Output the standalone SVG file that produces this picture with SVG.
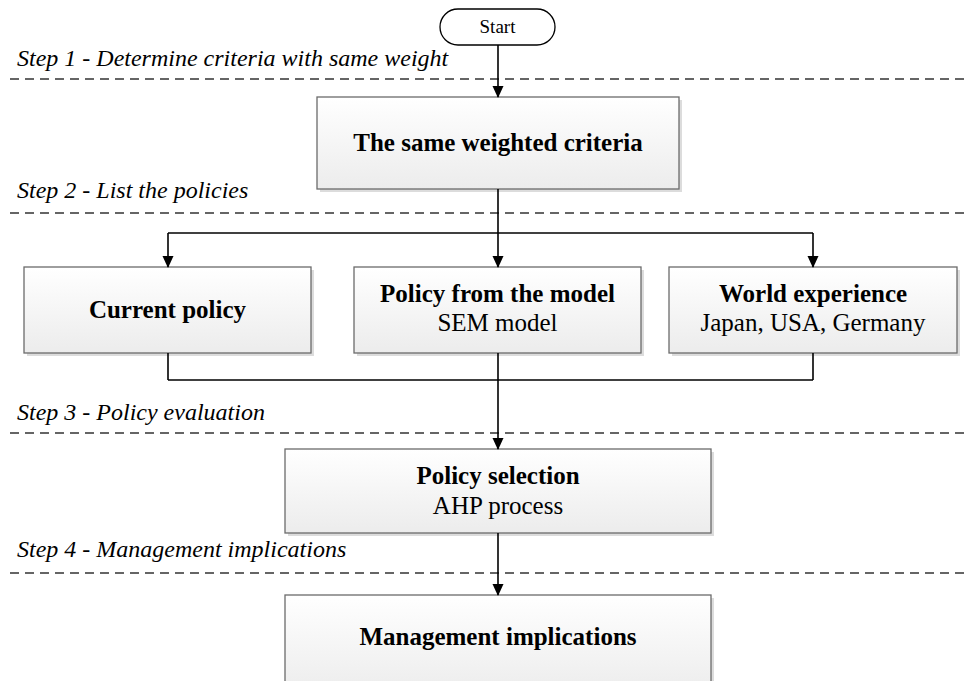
<svg xmlns="http://www.w3.org/2000/svg" width="967" height="681" viewBox="0 0 967 681">
<defs>
<linearGradient id="g" x1="0" y1="0" x2="0" y2="1">
<stop offset="0" stop-color="#ffffff"/>
<stop offset="1" stop-color="#ececec"/>
</linearGradient>
<marker id="ah" markerWidth="12" markerHeight="12" refX="11" refY="5.5" orient="auto" markerUnits="userSpaceOnUse">
<path d="M0,0 L12,5.5 L0,11 Z" fill="#000"/>
</marker>
<style>
.box{fill:url(#g);stroke:#6b6b6b;stroke-width:1.3}
.sh{fill:#dcdcdc}
.b{font-family:"Liberation Serif","Times New Roman",serif;font-weight:bold;font-size:25px;text-anchor:middle;fill:#000}
.r{font-family:"Liberation Serif","Times New Roman",serif;font-size:25px;text-anchor:middle;fill:#000}
.step{font-family:"Liberation Serif","Times New Roman",serif;font-style:italic;font-size:24px;fill:#000}
.dash{stroke:#333;stroke-width:1.3;stroke-dasharray:9 6;fill:none}
.c{stroke:#000;stroke-width:1.6;fill:none}
.ca{stroke:#000;stroke-width:1.6;fill:none;marker-end:url(#ah)}
</style>
</defs>
<rect width="967" height="681" fill="#fff"/>
<g id="steps">
<text class="step" x="17" y="66">Step 1 - Determine criteria with same weight</text>
<line class="dash" x1="10" y1="79" x2="967" y2="79"/>
<text class="step" x="17" y="198">Step 2 - List the policies</text>
<line class="dash" x1="10" y1="213" x2="967" y2="213"/>
<text class="step" x="17" y="420">Step 3 - Policy evaluation</text>
<line class="dash" x1="10" y1="433" x2="967" y2="433"/>
<text class="step" x="17" y="557">Step 4 - Management implications</text>
<line class="dash" x1="10" y1="573" x2="967" y2="573"/>
</g>
<g id="start">
<rect x="440" y="9" width="115" height="36" rx="18" fill="#fff" stroke="#000" stroke-width="1.3"/>
<text x="497.5" y="33" font-family="Liberation Serif, Times New Roman, serif" font-size="19" text-anchor="middle">Start</text>
</g>
<g id="criteria">
<rect class="sh" x="320" y="100" width="362" height="92"/>
<rect class="box" x="317" y="97" width="362" height="92"/>
<text class="b" x="498" y="151">The same weighted criteria</text>
</g>
<g id="current">
<rect class="sh" x="27" y="270" width="287" height="86"/>
<rect class="box" x="24" y="267" width="287" height="86"/>
<text class="b" x="167.5" y="318">Current policy</text>
</g>
<g id="model">
<rect class="sh" x="357" y="270" width="287" height="86"/>
<rect class="box" x="354" y="267" width="287" height="86"/>
<text class="b" x="497.5" y="302">Policy from the model</text>
<text class="r" x="497.5" y="331">SEM model</text>
</g>
<g id="world">
<rect class="sh" x="672" y="270" width="288" height="86"/>
<rect class="box" x="669" y="267" width="288" height="86"/>
<text class="b" x="813" y="302">World experience</text>
<text class="r" x="813" y="331">Japan, USA, Germany</text>
</g>
<g id="selection">
<rect class="sh" x="288" y="452" width="426" height="84"/>
<rect class="box" x="285" y="449" width="426" height="84"/>
<text class="b" x="498" y="484">Policy selection</text>
<text class="r" x="498" y="514">AHP process</text>
</g>
<g id="management">
<rect class="sh" x="288" y="598" width="426" height="100"/>
<rect class="box" x="285" y="595" width="426" height="100"/>
<text class="b" x="498" y="645">Management implications</text>
</g>
<g id="connectors">
<line class="ca" x1="498" y1="45" x2="498" y2="97"/>
<line class="c" x1="498" y1="189" x2="498" y2="233"/>
<line class="c" x1="168" y1="233" x2="813" y2="233"/>
<line class="ca" x1="168" y1="233" x2="168" y2="267"/>
<line class="ca" x1="498" y1="233" x2="498" y2="267"/>
<line class="ca" x1="813" y1="233" x2="813" y2="267"/>
<line class="c" x1="168" y1="353" x2="168" y2="380"/>
<line class="c" x1="813" y1="353" x2="813" y2="380"/>
<line class="c" x1="168" y1="380" x2="813" y2="380"/>
<line class="ca" x1="498" y1="353" x2="498" y2="449"/>
<line class="ca" x1="498" y1="533" x2="498" y2="595"/>
</g>
</svg>
